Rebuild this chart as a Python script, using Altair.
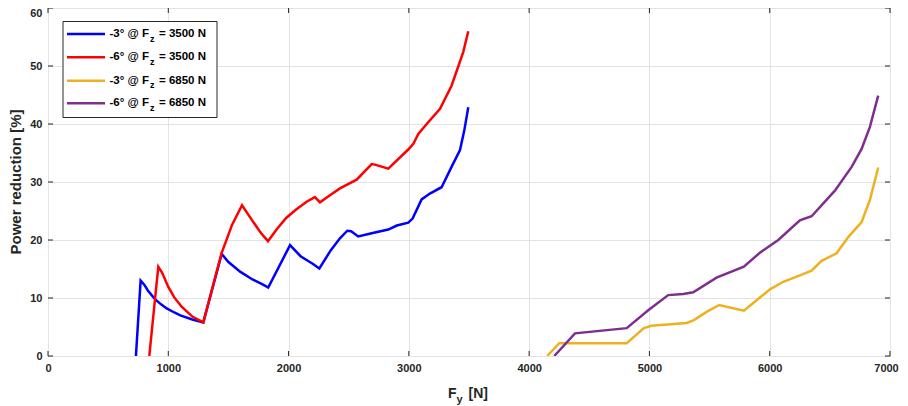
import altair as alt
import pandas as pd

# ---------------- data ----------------
series_names = ["-3° @ Fz = 3500 N", "-6° @ Fz = 3500 N", "-3° @ Fz = 6850 N", "-6° @ Fz = 6850 N"]
series_colors = ["#0000FF", "#FF0000", "#EDB120", "#7E2F8E"]
legend_angles = ["-3°", "-6°", "-3°", "-6°"]
legend_loads = ["3500 N", "3500 N", "6850 N", "6850 N"]

blue_x = [731, 770, 800, 830, 889, 940, 987, 1050, 1100, 1200, 1291, 1444, 1500, 1600, 1700, 1780, 1831,
          2012, 2100, 2200, 2256, 2350, 2427, 2488, 2520, 2579, 2700, 2829, 2900, 2995, 3031, 3106, 3175,
          3272, 3355, 3425, 3461, 3494]
blue_y = [0, 13.0, 12.3, 11.3, 9.8, 8.9, 8.2, 7.5, 7.0, 6.3, 5.8, 17.6, 16.2, 14.5, 13.2, 12.4, 11.8,
          19.1, 17.2, 15.9, 15.1, 18.2, 20.3, 21.6, 21.5, 20.6, 21.2, 21.8, 22.5, 23.0, 23.7, 27.0, 28.0,
          29.1, 32.6, 35.5, 38.9, 42.9]

red_x = [842, 917, 950, 1000, 1050, 1111, 1200, 1291, 1444, 1530, 1613, 1700, 1770, 1829, 1900, 1980,
         2060, 2150, 2219, 2261, 2350, 2427, 2566, 2691, 2718, 2829, 2995, 3037, 3079, 3148, 3259, 3355,
         3452, 3494]
red_y = [0, 15.4, 14.3, 11.9, 10.1, 8.5, 6.8, 5.8, 17.8, 22.6, 26.0, 23.3, 21.2, 19.8, 21.8, 23.8,
         25.2, 26.6, 27.4, 26.5, 27.8, 28.9, 30.4, 33.1, 33.0, 32.3, 35.6, 36.6, 38.3, 40.0, 42.6, 46.6,
         52.4, 56.0]

yellow_x = [4150, 4250, 4811, 4954, 5018, 5309, 5370, 5475, 5580, 5785, 5891, 6002, 6113, 6251, 6348,
            6431, 6556, 6653, 6764, 6833, 6902]
yellow_y = [0, 2.2, 2.2, 4.8, 5.2, 5.7, 6.2, 7.6, 8.8, 7.8, 9.6, 11.5, 12.8, 13.9, 14.7,
            16.4, 17.7, 20.5, 23.1, 26.9, 32.5]

purple_x = [4209, 4381, 4811, 4990, 5156, 5281, 5364, 5558, 5785, 5918, 6071, 6251, 6348, 6542, 6681,
            6764, 6833, 6902]
purple_y = [0, 3.9, 4.8, 7.9, 10.5, 10.7, 11.0, 13.5, 15.4, 17.8, 20.0, 23.4, 24.1, 28.5, 32.6,
            35.7, 39.5, 44.9]

x_ticks = [0, 1000, 2000, 3000, 4000, 5000, 6000, 7000]
y_ticks = [0, 10, 20, 30, 40, 50, 60]

# ---------------- layout ----------------
W, H = 842, 348
FONT = "Liberation Sans"
AX = "#262626"

rows = []
for name, xs, ys in zip(series_names, [blue_x, red_x, yellow_x, purple_x],
                        [blue_y, red_y, yellow_y, purple_y]):
    for i, (xv, yv) in enumerate(zip(xs, ys)):
        rows.append({"Fy": xv, "P": yv, "series": name, "ord": i})
df = pd.DataFrame(rows)

xscale = alt.Scale(domain=[0, 7000], nice=False, zero=False)
yscale = alt.Scale(domain=[0, 60], nice=False, zero=False)
xaxis = alt.Axis(values=x_ticks, title=None, grid=True, ticks=False, domain=False,
                 labelPadding=6, format="d", labelFlush=False,
                 labelOffset=alt.condition("datum.value == 7000", alt.value(-4), alt.value(0)))
yaxis = alt.Axis(values=y_ticks, title=None, grid=True, ticks=False, domain=False,
                 labelPadding=6, labelFlush=False,
                 labelOffset=alt.condition("datum.value == 60", alt.value(5.5), alt.value(0)))
color = alt.Color("series:N", scale=alt.Scale(domain=series_names, range=series_colors), legend=None)

lines = alt.Chart(df).mark_line(strokeWidth=2.5, clip=True).encode(
    x=alt.X("Fy:Q", scale=xscale, axis=xaxis),
    y=alt.Y("P:Q", scale=yscale, axis=yaxis),
    color=color,
    detail="series:N",
    order="ord:Q",
)

xt = pd.DataFrame({"t": x_ticks})
yt = pd.DataFrame({"t": y_ticks})
tick_bottom = alt.Chart(xt).mark_rule(color=AX, strokeWidth=1).encode(
    x=alt.X("t:Q", scale=xscale, axis=xaxis), y=alt.value(H), y2=alt.value(H - 5))
tick_top = alt.Chart(xt).mark_rule(color=AX, strokeWidth=1).encode(
    x=alt.X("t:Q", scale=xscale, axis=xaxis), y=alt.value(0), y2=alt.value(5))
tick_left = alt.Chart(yt).mark_rule(color=AX, strokeWidth=1).encode(
    y=alt.Y("t:Q", scale=yscale, axis=yaxis), x=alt.value(0), x2=alt.value(5))
tick_right = alt.Chart(yt).mark_rule(color=AX, strokeWidth=1).encode(
    y=alt.Y("t:Q", scale=yscale, axis=yaxis), x=alt.value(W), x2=alt.value(W - 5))

# ---------------- manual legend ----------------
row_y = [26, 49.3, 72.7, 95.3]
leg = pd.DataFrame({
    "series": series_names,
    "pre": [a + " @ F" for a in legend_angles],
    "post": ["= " + l for l in legend_loads],
    "ry": row_y,
    "rsub": [r + 4.5 for r in row_y],
})
legend_box = alt.Chart(pd.DataFrame({"a": [0]})).mark_rect(
    fill="white", stroke=AX, strokeWidth=1).encode(
    x=alt.value(15), x2=alt.value(169), y=alt.value(13.5), y2=alt.value(109.5))
legend_lines = alt.Chart(leg).mark_rule(strokeWidth=2.5).encode(
    x=alt.value(19), x2=alt.value(57),
    y=alt.Y("ry:Q", scale=None, axis=None),
    color=color)
legend_pre = alt.Chart(leg).mark_text(align="left", baseline="middle", font=FONT,
                                      fontWeight="bold", fontSize=11.5, color="black").encode(
    x=alt.value(61.5), y=alt.Y("ry:Q", scale=None, axis=None), text="pre:N")
legend_sub = alt.Chart(leg).mark_text(align="left", baseline="middle", font=FONT,
                                      fontWeight="bold", fontSize=9, color="black", text="z").encode(
    x=alt.value(102), y=alt.Y("rsub:Q", scale=None, axis=None))
legend_post = alt.Chart(leg).mark_text(align="left", baseline="middle", font=FONT,
                                       fontWeight="bold", fontSize=11.5, color="black").encode(
    x=alt.value(111), y=alt.Y("ry:Q", scale=None, axis=None), text="post:N")

# ---------------- axis titles ----------------
one = pd.DataFrame({"a": [0]})
xt_F = alt.Chart(one).mark_text(align="left", baseline="alphabetic", font=FONT, fontWeight="bold",
                                fontSize=14, color=AX, text="F").encode(x=alt.value(400), y=alt.value(390))
xt_y = alt.Chart(one).mark_text(align="left", baseline="alphabetic", font=FONT, fontWeight="bold",
                                fontSize=11, color=AX, text="y").encode(x=alt.value(408.5), y=alt.value(395))
xt_N = alt.Chart(one).mark_text(align="left", baseline="alphabetic", font=FONT, fontWeight="bold",
                                fontSize=14, color=AX, text="[N]").encode(x=alt.value(420.5), y=alt.value(390))
yt_title = alt.Chart(one).mark_text(align="center", baseline="middle", font=FONT, fontWeight="bold",
                                    fontSize=15, color=AX, angle=270,
                                    text="Power reduction [%]").encode(x=alt.value(-32.5), y=alt.value(174))

chart = alt.layer(
    lines, tick_bottom, tick_top, tick_left, tick_right,
    legend_box, legend_lines, legend_pre, legend_sub, legend_post,
    xt_F, xt_y, xt_N, yt_title,
).properties(
    width=W, height=H,
    autosize=alt.AutoSizeParams(type="none"),
    padding={"left": 40, "top": 0, "right": 10, "bottom": 50},
).configure_view(
    stroke=AX, strokeWidth=1
).configure_axis(
    labelFont=FONT, labelFontWeight="bold", labelFontSize=11, labelColor=AX,
    gridColor="#e3e3e3", gridWidth=1,
)

chart.save("out.html", embed_options={"renderer": "svg", "actions": False})
